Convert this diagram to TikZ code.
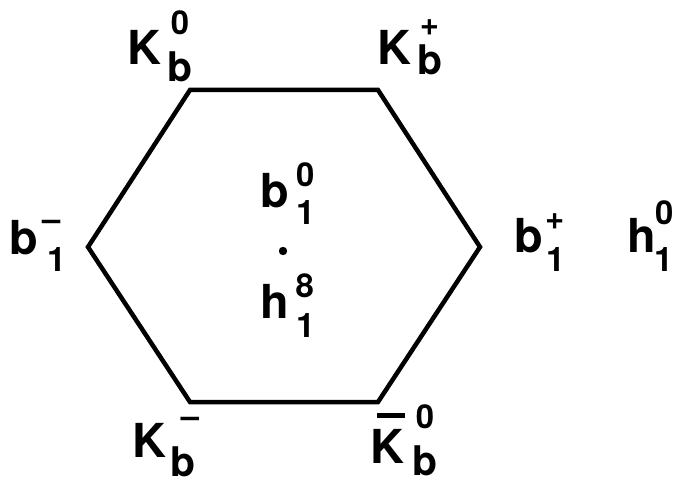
\documentclass[tikz,border=0pt]{standalone}
\usepackage{fontspec}
\setmainfont{TeX Gyre Heros}
\newcommand\fmain{\fontsize{47}{47}\selectfont\bfseries}
\newcommand\fsb{\fontsize{41}{41}\selectfont\bfseries}
\newcommand\fso{\fontsize{34}{34}\selectfont\bfseries}
\newcommand\fsup{\fontsize{33}{33}\selectfont\bfseries}
% #1 base, #2 sub dx, #3 sub drop, #4 sub text, #5 sup dx, #6 sup raise, #7 sup text
\newcommand\lab[7]{#1\rlap{\hspace{#5bp}\raisebox{#6bp}{\fsup #7}}\hspace{#2bp}\raisebox{-#3bp}{#4}}
\newcommand\barK{\rlap{\hspace{7bp}\raisebox{45bp}{\rule{28bp}{5bp}}}K}
\begin{document}
\begin{tikzpicture}[x=1bp,y=-1bp,
  hexline/.style={line width=4.5bp,line join=miter},
  lbl/.style={anchor=base west,inner sep=0pt,outer sep=0pt,font=\fmain}]
\useasboundingbox (0,0) rectangle (682,484);
\coordinate (v1) at (190,90);
\coordinate (v2) at (378,90);
\coordinate (v3) at (480,247);
\coordinate (v4) at (378,402);
\coordinate (v5) at (190,402);
\coordinate (v6) at (88,247);
\draw[hexline] (v1) -- (v2) -- (v3) -- (v4) -- (v5) -- (v6) -- cycle;
\fill (283,251) circle (4.2);
\node[lbl] (kb0) at (127,65) {\lab{K}{6.5}{17}{\fsb b}{10}{30}{0}};
\node[lbl] (kbp) at (377,65) {\lab{K}{6.5}{10}{\fsb b}{9}{29}{+}};
\node[lbl] (b1m) at (9,255) {\lab{b}{10}{17}{\fso 1}{4.5}{24.5}{--}};
\node[lbl] (b10) at (260,208) {\lab{b}{7.5}{17}{\fso 1}{7.5}{21}{0}};
\node[lbl] (h18) at (260,318) {\lab{h}{7.5}{19}{\fso 1}{7}{21}{8}};
\node[lbl] (b1p) at (514,253) {\lab{b}{3.5}{19}{\fso 1}{2.5}{23}{+}};
\node[lbl] (h10) at (627,253) {\lab{h}{-1.5}{19}{\fso 1}{-0.5}{28}{0}};
\node[lbl] (kbm) at (132,457) {\lab{K}{4.5}{19}{\fsb b}{15}{30}{--}};
\node[lbl] (kbb0) at (370,463) {\lab{\barK}{8.5}{12}{\fsb b}{12}{35}{0}};
\end{tikzpicture}
\end{document}
